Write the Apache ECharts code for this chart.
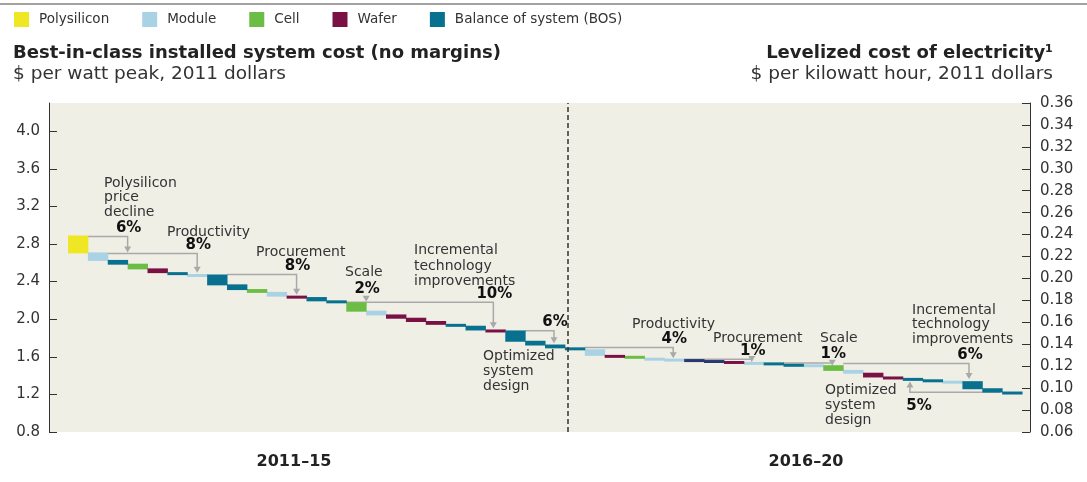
<!DOCTYPE html>
<html>
<head>
    <meta charset="utf-8">
    <title>Solar cost waterfall</title>
    <script src="https://cdn.jsdelivr.net/npm/echarts@6/dist/echarts.min.js"></script>
    <style>
        body { margin: 0; background: #fff; }
    </style>
</head>
<body>
    <div id="main" style="width:1087px; height:482px;"></div>

    <script type="text/javascript">

        // cost components, in legend order
        var parts = ['Polysilicon', 'Module', 'Cell', 'Wafer', 'Balance of system (BOS)'];
        var partColors = ['#efe723', '#a9d3e5', '#6bbd45', '#7a1144', '#08718f'];

        // running installed cost ($/Wp) before and after each step
        var levels = [2.88, 2.70, 2.62, 2.58, 2.53, 2.49, 2.47, 2.465, 2.36, 2.31,
                      2.28, 2.24, 2.225, 2.19, 2.17, 2.08, 2.04, 2.005, 1.97, 1.94,
                      1.92, 1.88, 1.87, 1.76, 1.72, 1.69, 1.67, 1.61, 1.60, 1.58,
                      1.57, 1.565, 1.555, 1.545, 1.535, 1.53, 1.515, 1.51, 1.50, 1.45,
                      1.42, 1.38, 1.365, 1.35, 1.335, 1.33, 1.255, 1.22, 1.205];

        // component of each step ('Other' = dark blue steps not in the legend)
        var P = 'Polysilicon', M = 'Module', C = 'Cell', W = 'Wafer', B = 'Balance of system (BOS)', O = 'Other';
        var stepParts = [P, M, B, C, W, B, M, B, B, C,
                         M, W, B, B, C, M, W, W, W, B,
                         B, W, B, B, B, B, M, W, C, M,
                         M, O, O, W, M, B, B, M, C, M,
                         W, W, B, B, M, B, B, B];

        // lever brackets: path in [step, $/Wp], percentage label
        var leverPaths = [
            [[1, 2.88], [3, 2.88], [3, 2.71]],
            [[2, 2.70], [6.5, 2.70], [6.5, 2.495]],
            [[8, 2.475], [11.5, 2.475], [11.5, 2.26]],
            [[15, 2.235], [15, 2.185]],
            [[13, 2.18], [21.4, 2.18], [21.4, 1.905]],
            [[23, 1.877], [24.45, 1.877], [24.45, 1.745]],
            [[26, 1.70], [30.45, 1.70], [30.45, 1.585]],
            [[31, 1.575], [34.4, 1.575], [34.4, 1.545]],
            [[36, 1.535], [38.45, 1.535], [38.45, 1.505]],
            [[39, 1.53], [45.33, 1.53], [45.33, 1.365]],
            [[46.9, 1.222], [42.36, 1.222], [42.36, 1.337]]
        ];
        var leverPcts = ['6%', '8%', '8%', '2%', '10%', '6%', '4%', '1%', '1%', '6%', '5%'];

        var periodSplit = 25.15;
        var periods = ['2011\u201315', '2016\u201320'];

        var leftTicks = { min: 0.8, max: 4.3, interval: 0.4 };
        var rightTicks = { min: 0.06, max: 0.36, interval: 0.02 };

        var FONT = '"DejaVu Sans", sans-serif';
        var GRAY = '#a9a9a9';

        function renderBox(params, api) {
            var k = api.value(0);
            var p0 = api.coord([k, api.value(1)]);
            var p1 = api.coord([k + 1, api.value(2)]);
            // boxes overlap the previous one by a pixel, as in the print
            return {
                type: 'rect',
                shape: { x: p0[0], y: p0[1] - 1, width: p1[0] - p0[0] + 0.5, height: Math.max(p1[1] - p0[1], 2) + 1 },
                style: { fill: api.visual('color') }
            };
        }

        function renderLever(params, api) {
            var i = params.dataIndex;
            var pts = leverPaths[i].map(function (p) { return api.coord(p); });
            var tip = pts[pts.length - 1];
            var prev = pts[pts.length - 2];
            var dir = tip[1] > prev[1] ? 1 : -1;
            var children = [{
                type: 'polyline',
                shape: { points: pts.slice(0, -1).concat([[tip[0], tip[1] - dir * 5]]) },
                style: { stroke: GRAY, lineWidth: 1.5, fill: null }
            }, {
                type: 'polygon',
                shape: { points: [[tip[0] - 3.5, tip[1] - dir * 6], [tip[0] + 3.5, tip[1] - dir * 6], [tip[0], tip[1]]] },
                style: { fill: GRAY }
            }];
            var lineY = pts.length > 2 ? pts[pts.length - 2][1] : pts[0][1];
            var below = dir < 0;
            children.push({
                type: 'text',
                style: {
                    text: leverPcts[i],
                    x: tip[0] + (below ? 9 : 1),
                    y: below ? lineY + 6 : lineY - 1,
                    align: 'center',
                    verticalAlign: below ? 'top' : 'bottom',
                    font: 'bold 15px ' + FONT,
                    fill: '#111'
                }
            });
            return { type: 'group', children: children };
        }

        function stepData(name) {
            var out = [];
            stepParts.forEach(function (p, k) {
                if (p === name) out.push([k, levels[k], levels[k + 1]]);
            });
            return out;
        }

        function note(text, x, y, lh) {
            return {
                type: 'text', left: x, top: y, silent: true,
                style: { text: text, font: '14px ' + FONT, fill: '#333', lineHeight: lh || 15 }
            };
        }

        var series = parts.map(function (name, i) {
            return {
                name: name,
                type: 'custom',
                renderItem: renderBox,
                itemStyle: { color: partColors[i] },
                data: stepData(name),
                silent: true,
                z: 3
            };
        });
        series.push({
            name: 'Other',
            type: 'custom',
            renderItem: renderBox,
            itemStyle: { color: '#26386f' },
            data: stepData('Other'),
            silent: true,
            z: 3
        });
        series.push({
            name: 'levers',
            type: 'custom',
            renderItem: renderLever,
            data: leverPaths.map(function (p, i) { return [i]; }),
            silent: true,
            z: 2,
            markLine: {
                silent: true,
                symbol: 'none',
                label: { show: false },
                lineStyle: { color: '#333', type: [5, 3], width: 1.5 },
                data: [{ xAxis: periodSplit }]
            }
        });

        var myChart = echarts.init(document.getElementById('main'));

        myChart.setOption({
            animation: false,
            backgroundColor: '#fff',
            textStyle: { fontFamily: FONT },
            title: [
                { text: 'Best-in-class installed system cost (no margins)', left: 13, top: 44, padding: 0,
                  textStyle: { fontSize: 18, fontWeight: 'bold', color: '#222', fontFamily: FONT } },
                { text: '$ per watt peak, 2011 dollars', left: 13, top: 65, padding: 0,
                  textStyle: { fontSize: 18.5, fontWeight: 'normal', color: '#333', fontFamily: FONT } },
                { text: 'Levelized cost of electricity\u00b9', right: 34, top: 44, padding: 0,
                  textStyle: { fontSize: 18, fontWeight: 'bold', color: '#222', fontFamily: FONT } },
                { text: '$ per kilowatt hour, 2011 dollars', right: 34, top: 65, padding: 0,
                  textStyle: { fontSize: 18.5, fontWeight: 'normal', color: '#333', fontFamily: FONT } }
            ],
            legend: {
                data: parts,
                left: 14,
                top: 12,
                padding: 0,
                itemWidth: 15,
                itemHeight: 15,
                itemGap: 33,
                icon: 'rect',
                selectedMode: false,
                textStyle: { fontSize: 13.5, color: '#333', fontFamily: FONT, padding: [0, 0, 0, 5] }
            },
            grid: {
                left: 49, right: 57, top: 103, bottom: 50,
                show: true, backgroundColor: '#f0efe6', borderWidth: 0
            },
            xAxis: {
                type: 'value',
                min: -0.956,
                max: 48.4,
                show: false
            },
            yAxis: [{
                type: 'value',
                min: leftTicks.min,
                max: leftTicks.max,
                interval: leftTicks.interval,
                position: 'left',
                splitLine: { show: false },
                axisLine: { show: true, onZero: false, lineStyle: { color: '#333', width: 1 } },
                axisTick: { show: true, inside: true, length: 8, lineStyle: { color: '#333' } },
                axisLabel: {
                    margin: 9, color: '#333', fontSize: 15, fontFamily: FONT, showMaxLabel: false,
                    formatter: function (v) { return v.toFixed(1); }
                }
            }, {
                type: 'value',
                min: rightTicks.min,
                max: rightTicks.max,
                interval: rightTicks.interval,
                position: 'right',
                splitLine: { show: false },
                axisLine: { show: true, onZero: false, lineStyle: { color: '#333', width: 1 } },
                axisTick: { show: true, inside: true, length: 8, lineStyle: { color: '#333' } },
                axisLabel: {
                    margin: 10, color: '#333', fontSize: 15, fontFamily: FONT,
                    formatter: function (v) { return v.toFixed(2); }
                }
            }],
            graphic: [
                { type: 'rect', left: 0, top: 3, silent: true,
                  shape: { width: 1087, height: 2 }, style: { fill: '#a3a3a3' } },
                note('Polysilicon\nprice\ndecline', 104, 176, 14.5),
                note('Productivity', 167, 225),
                note('Procurement', 256, 245),
                note('Scale', 345, 265),
                note('Incremental\ntechnology\nimprovements', 414, 243, 15.5),
                note('Optimized\nsystem\ndesign', 483, 349),
                note('Productivity', 632, 317),
                note('Procurement', 713, 331),
                note('Scale', 820, 331),
                note('Incremental\ntechnology\nimprovements', 912, 303, 14.5),
                note('Optimized\nsystem\ndesign', 825, 383),
                { type: 'text', x: 294, y: 462, silent: true,
                  style: { text: periods[0], align: 'center', verticalAlign: 'middle', font: 'bold 16px ' + FONT, fill: '#222' } },
                { type: 'text', x: 806, y: 462, silent: true,
                  style: { text: periods[1], align: 'center', verticalAlign: 'middle', font: 'bold 16px ' + FONT, fill: '#222' } }
            ],
            series: series
        });
    </script>
</body>
</html>
